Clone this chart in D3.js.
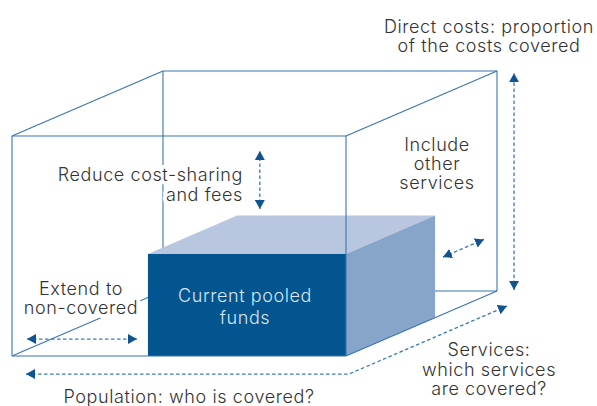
<!DOCTYPE html>
<html>
<head>
<meta charset="utf-8">
<script src="https://cdn.jsdelivr.net/npm/d3@7"></script>
<style>
  body { margin: 0; background: #fff; }
  text { font-family: Inter, "Noto Sans", sans-serif; font-weight: 300; font-size: 18px; letter-spacing: 0.6px; fill: #333; }
</style>
</head>
<body>
<div id="chart"></div>
<script>
// every point is [population, services, direct costs], each running 0..1 on the cube
const backEdges = [
  [[0, 0, 0], [0, 1, 0]],
  [[0, 1, 0], [0, 1, 1]],
  [[0, 1, 0], [1, 1, 0]]
];
const frontEdges = [
  [[0, 0, 0], [1, 0, 0]],
  [[1, 0, 0], [1, 0, 1]],
  [[1, 0, 1], [0, 0, 1]],
  [[0, 0, 1], [0, 0, 0]],
  [[0, 0, 1], [0, 1, 1]],
  [[0, 1, 1], [1, 1, 1]],
  [[1, 0, 1], [1, 1, 1]],
  [[1, 1, 1], [1, 1, 0]],
  [[1, 0, 0], [1, 1, 0]]
];

// current pooled funds box
const poolPop  = [0.407, 1];
const poolServ = [0, 0.59];
const poolCost = [0, 0.464];

// double arrows
const arrows = [
  [[0.742, 0, 0.668], [0.742, 0, 0.932]],          // reduce cost-sharing
  [[0.045, 0, 0.077], [0.374, 0, 0.077]],          // extend to non-covered
  [[1, 0.642, 0.26], [1, 0.914, 0.26]],            // include other services
  [[1.051, 1, 0.005], [1.051, 1, 0.99]],           // direct costs
  [[0.042, 0, -0.082], [1.009, 0, -0.082], [1.009, 1.046, -0.082]] // population -> services
];

const costLabel     = ['Direct costs: proportion', 'of the costs covered'];
const reduceLabel   = ['Reduce cost-sharing', 'and fees'];
const includeLabel  = ['Include', 'other', 'services'];
const extendLabel   = ['Extend to', 'non-covered'];
const poolLabel     = ['Current pooled', 'funds'];
const popLabel      = ['Population: who is covered?'];
const servicesLabel = ['Services:', 'which services', 'are covered?'];

const W = 597, H = 406;

let svg = d3.select('#chart').append('svg')
  .attr('width', W)
  .attr('height', H);

let x  = d3.scaleLinear().domain([0, 1]).range([12, 346]);
let y  = d3.scaleLinear().domain([0, 1]).range([356, 136]);
let dx = d3.scaleLinear().domain([0, 1]).range([0, 151]);
let dy = d3.scaleLinear().domain([0, 1]).range([0, -65]);

function proj(d) {
  return [x(d[0]) + dx(d[1]), y(d[2]) + dy(d[1])];
}

let line = d3.line().x(d => proj(d)[0]).y(d => proj(d)[1]);

svg.append('defs').append('marker')
  .attr('id', 'head')
  .attr('viewBox', '0 0 9 10')
  .attr('refX', 9).attr('refY', 5)
  .attr('markerWidth', 9).attr('markerHeight', 10)
  .attr('markerUnits', 'userSpaceOnUse')
  .attr('orient', 'auto-start-reverse')
  .append('path')
  .attr('d', 'M0,0L9,5L0,10Z')
  .attr('fill', '#0f5390');

function edges(data) {
  svg.append('g').selectAll('path').data(data).enter().append('path')
    .attr('d', line)
    .attr('fill', 'none')
    .attr('stroke', '#3774b0')
    .attr('stroke-width', 1.1);
}

edges(backEdges);

// the box
let p0 = poolPop[0], p1 = poolPop[1], s0 = poolServ[0], s1 = poolServ[1], c0 = poolCost[0], c1 = poolCost[1];
let faces = [
  {fill: '#b8c7df', pts: [[p0, s0, c1], [p0, s1, c1], [p1, s1, c1], [p1, s0, c1]]},
  {fill: '#87a4c9', pts: [[p1, s0, c0], [p1, s0, c1], [p1, s1, c1], [p1, s1, c0]]},
  {fill: '#02558f', pts: [[p0, s0, c0], [p0, s0, c1], [p1, s0, c1], [p1, s0, c0]]}
];
svg.append('g').selectAll('path').data(faces).enter().append('path')
  .attr('d', d => line(d.pts) + 'Z')
  .attr('fill', d => d.fill);

edges(frontEdges);

svg.append('g').selectAll('path').data(arrows).enter().append('path')
  .attr('d', line)
  .attr('fill', 'none')
  .attr('stroke', '#3a7ab4')
  .attr('stroke-width', 1.3)
  .attr('stroke-dasharray', '3.5,2.5')
  .attr('marker-start', 'url(#head)')
  .attr('marker-end', 'url(#head)');

function label(lines, lx, ly, step, anchor, halo, color) {
  let t = svg.append('text')
    .attr('text-anchor', anchor)
    .style('fill', color || '#333');
  if (halo) {
    t.attr('stroke', '#fff').attr('stroke-width', 8)
      .attr('stroke-linejoin', 'round').attr('paint-order', 'stroke');
  }
  lines.forEach((s, i) => {
    t.append('tspan').attr('x', lx).attr('y', ly + i * step).text(s);
  });
}

label(costLabel, 489, 33, 19, 'middle', false);
label(reduceLabel, 243, 181, 19.5, 'end', true);
label(includeLabel, 437, 151, 19, 'middle', true);
label(extendLabel, 81, 295, 19, 'middle', true);
label(poolLabel, 245, 302, 22, 'middle', false, '#dbe5f1');
label(popLabel, 189, 403, 19, 'middle', false);
label(servicesLabel, 489, 356, 19.5, 'middle', true);
</script>
</body>
</html>
